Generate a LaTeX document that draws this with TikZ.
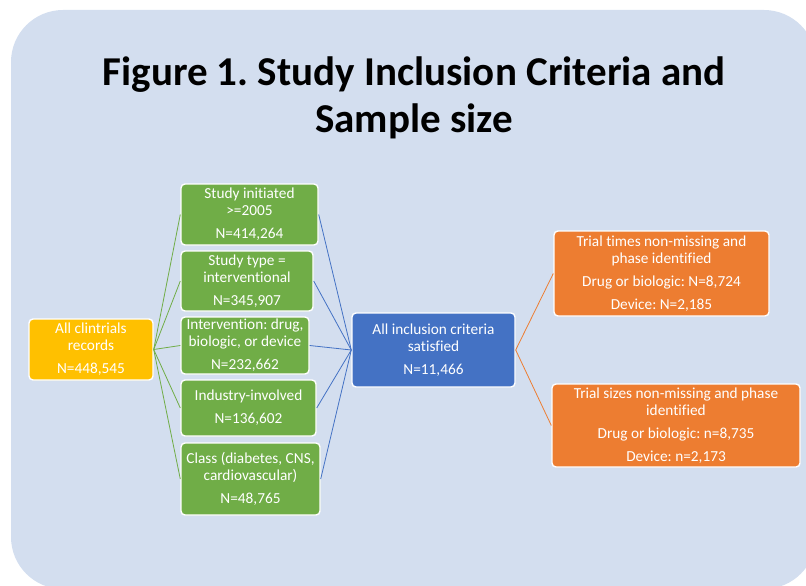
\documentclass[tikz,border=0pt]{standalone}
\usepackage{fontspec}
\setmainfont{Carlito}[Ligatures=NoCommon]
\frenchspacing
\definecolor{bgblue}{RGB}{211,222,239}
\definecolor{cyellow}{HTML}{FFC000}
\definecolor{cgreen}{HTML}{70AD47}
\definecolor{cblue}{HTML}{4472C4}
\definecolor{corange}{HTML}{ED7D31}
\tikzset{
  box/.style={draw=white, line width=1.4pt, rounded corners=4pt, text=white,
    align=center, inner sep=0pt, font=\fontsize{15.3}{17}\selectfont},
  ybox/.style={box, fill=cyellow},
  gbox/.style={box, fill=cgreen},
  bbox/.style={box, fill=cblue},
  obox/.style={box, fill=corange},
  gline/.style={draw=cgreen, line width=0.8pt},
  bline/.style={draw=cblue, line width=0.8pt},
  oline/.style={draw=corange, line width=0.8pt},
  titletext/.style={font=\fontsize{41}{47}\selectfont\bfseries, text=black, inner sep=0pt, anchor=base}
}
\begin{document}
\begin{tikzpicture}[x=1pt,y=-1pt]
\useasboundingbox (0,0) rectangle (806,586);
\fill[bgblue, rounded corners=52pt] (11,10) rectangle (816,589);
\node[titletext] (t1) at (414,85) {Figure 1. Study Inclusion Criteria and};
\node[titletext] (t2) at (414,132) {Sample size};
% yellow
\node[ybox, minimum width=124pt, minimum height=61pt] (all) at (91,349.5)
  {All clintrials\\records\\[6pt]N=448,545};
% green
\node[gbox, minimum width=137pt, minimum height=61pt] (g1) at (249.5,214.5)
  {Study initiated\\>=2005\\[6pt]N=414,264};
\node[gbox, minimum width=132pt, minimum height=60pt] (g2) at (247,281)
  {Study type =\\interventional\\[6pt]N=345,907};
\node[gbox, minimum width=128pt, minimum height=57pt] (g3) at (245,345.5)
  {Intervention: drug,\\biologic, or device\\[6pt]N=232,662};
\node[gbox, minimum width=135pt, minimum height=56pt] (g4) at (248.5,408)
  {Industry-involved\\[6pt]N=136,602};
\node[gbox, minimum width=139pt, minimum height=72pt] (g5) at (250.5,479)
  {Class (diabetes, CNS,\\cardiovascular)\\[6pt]N=48,765};
% blue
\node[bbox, minimum width=163pt, minimum height=74pt] (ok) at (433.5,350)
  {All inclusion criteria\\satisfied\\[6pt]N=11,466};
% orange
\node[obox, minimum width=215pt, minimum height=85pt] (o1) at (661.5,273.5)
  {Trial times non-missing and\\phase identified\\[6pt]Drug or biologic: N=8,724\\[6pt]Device: N=2,185};
\node[obox, minimum width=248pt, minimum height=83pt] (o2) at (676,425.5)
  {Trial sizes non-missing and phase\\identified\\[6pt]Drug or biologic: n=8,735\\[6pt]Device: n=2,173};
% connectors
\foreach \g in {g1,g2,g3,g4,g5} {
  \draw[gline] (all.east) -- (\g.west);
  \draw[bline] (\g.east) -- (ok.west);
}
\draw[oline] (ok.east) -- (o1.west);
\draw[oline] (ok.east) -- (o2.west);
\end{tikzpicture}
\end{document}
